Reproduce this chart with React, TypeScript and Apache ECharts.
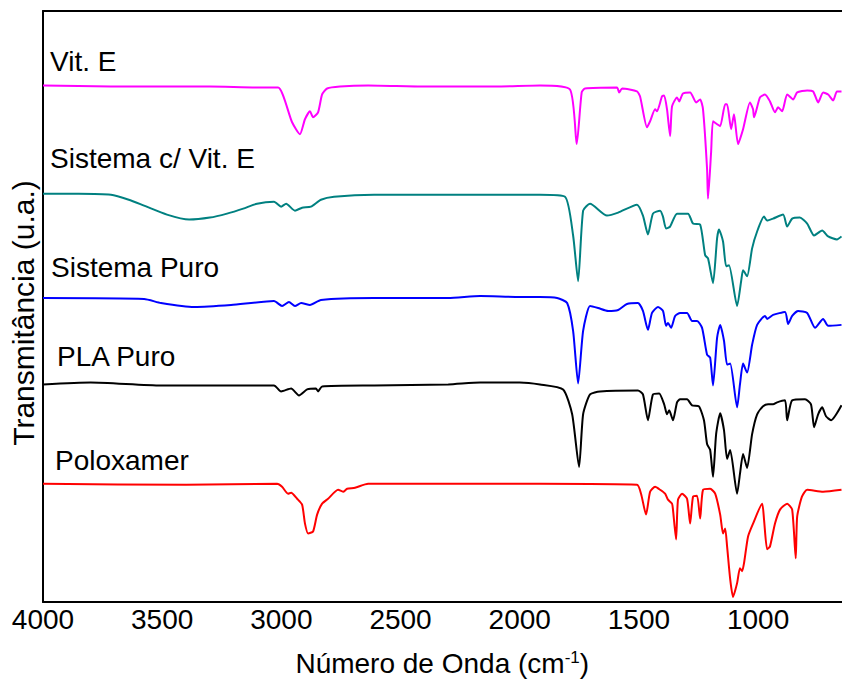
import React, { useEffect, useRef } from "react";
import * as echarts from "echarts";

const tickValues = [4000, 3500, 3000, 2500, 2000, 1500, 1000];
const seriesNames = ["Vit. E", "Sistema c/ Vit. E", "Sistema Puro", "PLA Puro", "Poloxamer"];
const seriesColors = ["#FF00FF", "#008080", "#0000FF", "#000000", "#FF0000"];
const yTitle = "Transmitância (u.a.)";

const vitE: [number, number][] = [
  [4000, 520], [3715, 519], [3300, 519], [3100, 518], [3014, 518], [2955, 483], [2922, 471],
  [2901, 486], [2880, 494], [2867, 488], [2846, 493], [2829, 511], [2808, 517], [2754, 519],
  [2636, 520], [2400, 519], [2100, 519], [1915, 520], [1789, 516], [1761, 461], [1740, 513],
  [1726, 517], [1592, 518], [1583, 513], [1570, 517], [1508, 514], [1495, 509], [1466, 478],
  [1453, 484], [1432, 496], [1424, 494], [1403, 509], [1394, 510], [1382, 496], [1369, 469],
  [1361, 499], [1340, 508], [1331, 504], [1315, 512], [1285, 513], [1260, 503], [1243, 506],
  [1231, 496], [1214, 436], [1210, 406], [1197, 453], [1189, 484], [1172, 481], [1159, 479],
  [1138, 501], [1130, 501], [1113, 476], [1101, 491], [1084, 461], [1063, 476], [1034, 503],
  [1021, 496], [1017, 488], [992, 508], [971, 511], [950, 504], [929, 493], [916, 498],
  [899, 494], [878, 511], [853, 506], [836, 513], [794, 515], [769, 514], [748, 503],
  [727, 513], [706, 511], [685, 505], [669, 514], [650, 514],
];

const sistemaVitE: [number, number][] = [
  [4000, 411], [3850, 411], [3715, 410], [3640, 405], [3576, 399], [3480, 390], [3387, 385],
  [3300, 387], [3228, 391], [3160, 396], [3102, 401], [3031, 403],
  [3001, 398], [2980, 401], [2943, 394], [2913, 397], [2876, 398], [2834, 405], [2779, 408],
  [2611, 410], [2300, 410], [2000, 410], [1915, 410], [1810, 408], [1776, 369], [1755, 323],
  [1734, 394], [1705, 401], [1634, 389], [1587, 392], [1508, 400], [1483, 389], [1462, 370],
  [1441, 391], [1411, 394], [1399, 388], [1386, 376], [1369, 378], [1340, 391], [1294, 391],
  [1273, 381], [1243, 380], [1222, 349], [1210, 346], [1189, 321], [1172, 366], [1164, 375],
  [1147, 363], [1134, 338], [1122, 339], [1088, 298], [1071, 323], [1063, 334], [1046, 328],
  [1025, 356], [1004, 373], [975, 388], [962, 384], [937, 386], [895, 390], [878, 378],
  [857, 386], [825, 387], [794, 381], [765, 369], [731, 374], [706, 368], [669, 365], [650, 368],
];

const sistemaPuro: [number, number][] = [
  [4000, 306], [3576, 305], [3505, 301], [3366, 297], [3211, 299], [3031, 303], [2997, 298],
  [2968, 302], [2943, 298], [2917, 301], [2880, 299], [2834, 304], [2611, 306], [2300, 306],
  [2166, 308], [2000, 307], [1915, 307], [1843, 306], [1801, 301], [1776, 273], [1755, 220],
  [1734, 273], [1705, 298], [1671, 296], [1629, 293], [1587, 294], [1550, 300], [1504, 301],
  [1483, 293], [1462, 274], [1445, 291], [1420, 297], [1399, 293], [1386, 278], [1378, 281],
  [1365, 276], [1348, 288], [1327, 291], [1298, 291], [1277, 283], [1256, 283], [1235, 276],
  [1214, 249], [1201, 246], [1189, 218], [1172, 266], [1159, 279], [1143, 263], [1130, 239],
  [1117, 240], [1088, 196], [1076, 219], [1063, 240], [1046, 231], [1025, 259], [1004, 279],
  [971, 288], [962, 285], [937, 289], [887, 292], [874, 280], [857, 288], [832, 293],
  [794, 291], [761, 276], [727, 285], [706, 278], [650, 279],
];

const plaPuro: [number, number][] = [
  [4000, 219], [3800, 221], [3505, 218], [3031, 218], [3001, 212], [2959, 215], [2926, 208],
  [2892, 214], [2855, 215], [2846, 212], [2829, 217], [2611, 218], [2300, 219], [2166, 221],
  [2000, 221], [1915, 219], [1818, 214], [1780, 189], [1751, 136], [1734, 189], [1705, 209],
  [1663, 212], [1504, 213], [1483, 209], [1462, 183], [1441, 209], [1415, 210], [1394, 199],
  [1382, 189], [1373, 193], [1357, 183], [1340, 201], [1327, 204], [1298, 204], [1277, 198],
  [1248, 197], [1227, 183], [1214, 159], [1201, 153], [1189, 126], [1176, 169], [1159, 190],
  [1143, 173], [1130, 144], [1117, 153], [1088, 109], [1076, 129], [1063, 149], [1046, 135],
  [1025, 169], [1004, 189], [979, 197], [958, 199], [937, 199], [920, 201], [887, 203],
  [878, 183], [857, 203], [803, 204], [778, 199], [765, 176], [748, 189], [731, 196],
  [715, 187], [694, 183], [650, 198],
];

const poloxamer: [number, number][] = [
  [4000, 119], [3400, 118], [3018, 119], [2997, 116], [2972, 109], [2959, 110], [2934, 104],
  [2913, 98], [2901, 79], [2888, 69], [2867, 71], [2850, 88], [2829, 99], [2804, 104],
  [2762, 113], [2741, 111], [2724, 114], [2691, 115], [2636, 119], [2300, 119], [2000, 119],
  [1915, 119], [1508, 118], [1491, 109], [1470, 88], [1453, 111], [1432, 116], [1411, 113],
  [1390, 109], [1378, 103], [1361, 99], [1357, 93], [1344, 63], [1336, 103], [1319, 109],
  [1298, 104], [1285, 79], [1273, 106], [1256, 107], [1243, 84], [1231, 113], [1201, 114],
  [1180, 109], [1159, 88], [1147, 69], [1138, 74], [1130, 56], [1117, 23], [1105, 5],
  [1088, 19], [1076, 34], [1067, 31], [1059, 39], [1042, 66], [1021, 79], [983, 99],
  [975, 83], [962, 53], [950, 56], [929, 79], [908, 93], [878, 99], [857, 93], [842, 44],
  [836, 86], [816, 106], [794, 113], [727, 111], [650, 113],
];

const allData = [vitE, sistemaVitE, sistemaPuro, plaPuro, poloxamer];
const labelPos: [number, number][] = [[50, 61], [50, 158], [51, 267], [57, 356], [55, 460]];

const FONT = "'Liberation Sans', Arial, sans-serif";

export default function App() {
  const ref = useRef<HTMLDivElement>(null);
  useEffect(() => {
    if (!ref.current) return;
    const chart = echarts.init(ref.current, null, { renderer: "svg" });
    const axisLine = { show: true, lineStyle: { color: "#000", width: 2 } };
    chart.setOption({
      animation: false,
      backgroundColor: "#fff",
      grid: { left: 43, right: 0.5, top: 11, bottom: 76 },
      xAxis: [
        {
          type: "value",
          min: 650,
          max: 4000,
          inverse: true,
          position: "bottom",
          axisLine,
          axisTick: { show: false },
          splitLine: { show: false },
          axisLabel: {
            customValues: tickValues,
            formatter: (v: number) => String(v),
            color: "#000",
            fontSize: 28,
            fontFamily: FONT,
            margin: 3,
          },
          name: "Número de Onda (cm{sup|-1})",
          nameLocation: "middle",
          nameGap: 47,
          nameTextStyle: {
            color: "#000",
            fontSize: 28,
            fontFamily: FONT,
            rich: {
              sup: { fontSize: 17, fontFamily: FONT, color: "#000", verticalAlign: "top", lineHeight: 28 },
            },
          },
        },
        {
          type: "value",
          min: 650,
          max: 4000,
          inverse: true,
          position: "top",
          axisLine,
          axisTick: { show: false },
          splitLine: { show: false },
          axisLabel: { show: false },
        },
      ],
      yAxis: {
        type: "value",
        min: 0,
        max: 595,
        axisLine,
        axisTick: { show: false },
        axisLabel: { show: false },
        splitLine: { show: false },
      },
      series: allData.map((d, i) => ({
        type: "line",
        name: seriesNames[i],
        data: d,
        xAxisIndex: 0,
        showSymbol: false,
        smooth: 0.2,
        lineStyle: { color: seriesColors[i], width: 2 },
        itemStyle: { color: seriesColors[i] },
      })),
      graphic: [
        ...seriesNames.map((n, i) => ({
          type: "text",
          x: labelPos[i][0],
          y: labelPos[i][1],
          style: {
            text: n,
            fill: "#000",
            font: `28px ${FONT}`,
            verticalAlign: "middle",
            align: "left",
          },
        })),
        {
          type: "text",
          x: 23,
          y: 313,
          rotation: Math.PI / 2,
          style: {
            text: yTitle,
            fill: "#000",
            font: `30px ${FONT}`,
            verticalAlign: "middle",
            align: "center",
          },
        },
      ],
    });
    return () => chart.dispose();
  }, []);
  return (
    <div
      ref={ref}
      style={{ position: "absolute", left: 0, top: 0, width: 842, height: 682, background: "#fff" }}
    />
  );
}
